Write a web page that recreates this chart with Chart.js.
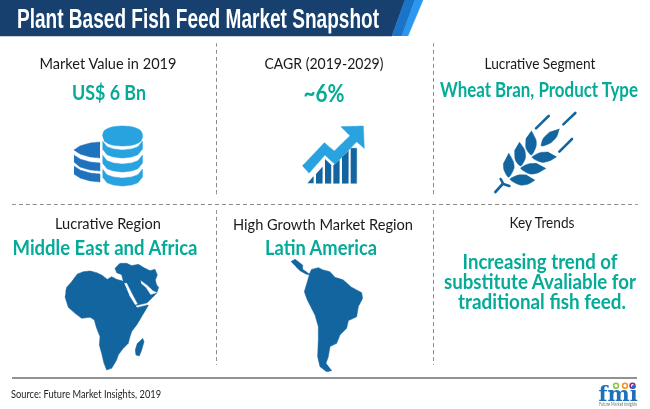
<!DOCTYPE html>
<html><head><meta charset="utf-8">
<style>
html,body{margin:0;padding:0;background:#fff}
#wrap{position:relative;width:650px;height:409px;overflow:hidden}
canvas{display:block}
.t{position:absolute;white-space:nowrap;line-height:1;margin:0;padding:0}
</style>
<script src="https://cdn.jsdelivr.net/npm/chart.js@4"></script>
</head><body><div id="wrap"><canvas id="c" width="650" height="409"></canvas></div>
<script>
// ---- text content ----
const chartTitle = "Plant Based Fish Feed Market Snapshot";
const panelHeadings = ["Market Value in 2019","CAGR (2019-2029)","Lucrative Segment","Lucrative Region","High Growth Market Region","Key Trends"];
const panelValues = ["US$ 6 Bn","~6%","Wheat Bran, Product Type","Middle East and Africa","Latin America"];
const trendLines = ["Increasing trend of","substitute Avaliable for","traditional fish feed."];
const sourceNote = "Source: Future Market Insights, 2019";
const logoWord = "fmi";
const logoTag = "Future Market Insights";

// ---- outlines ----
const headerDark = [[0,0],[405,0],[392,36],[0,36]];
const headerStripeA = [[392,36],[405,0],[415,0],[402,36]];
const headerStripeB = [[402,36],[415,0],[423,0],[408,36]];
const africa = [[197,275],[200,262],[215,245],[232,222],[250,215],[270,213],[290,218],[305,225],[322,238],[335,230],[350,238],[370,244],[365,224],[350,218],[345,205],[360,190],[380,190],[395,197],[415,193],[435,205],[450,212],[465,208],[472,225],[466,240],[470,255],[476,262],[470,280],[455,295],[440,310],[445,316],[440,325],[425,350],[410,375],[395,395],[390,410],[385,430],[370,445],[355,465],[350,480],[335,505],[320,510],[312,490],[305,460],[298,435],[300,410],[290,385],[283,360],[270,352],[245,355],[225,340],[205,322],[195,290]];
const redSea = [[373,250],[380,250],[395,280],[412,312],[406,314],[388,285]];
const gulf = [[422,242],[440,255],[458,272],[470,278],[452,283],[438,262],[424,250]];
const aden = [[408,318],[445,309],[446,313],[411,322]];
const madagascar = [[428,415],[432,425],[425,450],[418,468],[408,465],[406,450],[412,430]];
const southAmerica = [[213,185],[225,178],[235,185],[248,195],[248,208],[268,222],[275,208],[295,203],[310,210],[330,215],[345,232],[370,240],[395,262],[425,278],[428,295],[415,320],[410,350],[385,362],[380,385],[360,405],[350,430],[330,440],[325,470],[318,490],[335,512],[320,515],[300,500],[293,470],[295,420],[295,380],[285,345],[262,300],[253,275],[262,245],[268,225],[258,222],[240,212],[228,200]];
const wheatLeaves = [
 [[236,459],[250,485],[252,505],[236,532],[222,510],[220,490]],
 [[268,426],[284,450],[286,475],[272,498],[256,480],[254,450]],
 [[304,392],[318,420],[318,440],[304,465],[288,445],[288,415]],
 [[388,386],[380,410],[360,430],[334,438],[340,415],[360,395]],
 [[380,470],[360,482],[335,487],[306,472],[330,458],[355,456]],
 [[348,505],[325,518],[300,522],[272,505],[295,492],[320,490]],
 [[315,540],[295,552],[270,555],[240,538],[265,525],[290,525]]
];
const wheatStrokes = [
 [[196,576],[218,552]],[[212,537],[220,552],[238,558]],
 [[318,385],[356,348]],[[400,373],[436,339]],[[388,455],[426,417]]
];
const arrow = [[22,153],[88,83],[118,108],[165,62],[138,35],[205,33],[208,100],[185,80],[120,148],[90,120],[42,175]];
const growthBars = [
 [[38,205],[55,185],[55,205]],
 [[63,178],[82,157],[82,205],[63,205]],
 [[90,133],[108,150],[108,205],[90,205]],
 [[115,152],[133,135],[133,205],[115,205]],
 [[141,127],[160,108],[160,205],[141,205]],
 [[167,100],[185,100],[185,205],[167,205]]
];
const coinTopRight = [[102.5,136],[104,131],[109,128],[115,126.5],[122.5,126],[130,126.5],[136,128],[141,131],[142.5,136],[141,141],[136,144],[130,145.5],[122.5,146],[115,145.5],[109,144],[104,141]];
const coinArcX = [102.5,107,113,122.5,132,138,142.5];
const coinArcDepth = [0,5.7,7.9,9,7.9,5.7,0];
const coinBandTops = [141,155,169];
const coinLeftTop = [[100,142],[90,143],[80,146],[74,150],[80,154],[90,157],[100,158]];
const coinLeftBands = [
 [[74,155],[80,159],[90,162],[100,163],[100,171],[90,170],[80,167],[74,162]],
 [[74,166],[80,170],[90,173],[100,174],[100,182],[90,181],[80,178],[74,174]]
];
const guides = [
 [[216.5,43],[216.5,197]],[[216.5,210],[216.5,365]],
 [[433.5,43],[433.5,197]],[[433.5,210],[433.5,365]],
 [[12,204.5],[638,204.5]]
];
const footerRule = [[12,378],[637,378]];
const logoDots = [[616,385.7],[625,385.7],[632.5,385.7]];
const logoDotColors = ['#8dc63f','#f7941d','#92278f'];

// ---- helpers ----
const XY = p => p.map(([x,y])=>({x,y}));
const Z = (p,ox,oy) => p.map(([x,y])=>({x:ox+x/3,y:oy+y/3}));
const poly = (data,color,extra={}) => Object.assign({data,showLine:true,pointRadius:0,borderWidth:0.5,borderColor:color,backgroundColor:color,fill:'shape',tension:0.001},extra);
const stroke = (data,color,w,extra={}) => Object.assign({data,showLine:true,pointRadius:0,borderWidth:w,borderColor:color,fill:false,tension:0.001,borderCapStyle:'round'},extra);

const NAVY='#17406f', MAP='#12659f', SKY='#29a3e0', COIN='#1f72bd', TEAL='#06ab97';
const datasets=[];
datasets.push({data:XY(logoDots),showLine:false,pointRadius:2.4,pointBorderWidth:1.6,pointBackgroundColor:'#fff',pointBorderColor:logoDotColors});
datasets.push(poly(XY(headerDark),NAVY));
datasets.push(poly(XY(headerStripeA),'#1a74c8'));
datasets.push(poly(XY(headerStripeB),'#2b97ee'));
guides.forEach(g=>datasets.push(stroke(XY(g),'#8a8a8a',1,{borderDash:[4,3],borderCapStyle:'butt'})));
datasets.push(stroke(XY(footerRule),'#6e6e6e',1.3,{borderCapStyle:'butt'}));
// coins
datasets.push(poly(XY(coinTopRight),SKY,{tension:0.3}));
coinBandTops.forEach(t=>{
  const upper=coinArcX.map((x,i)=>({x,y:t+coinArcDepth[i]}));
  const lower=coinArcX.map((x,i)=>({x,y:t+8+coinArcDepth[i]})).reverse();
  datasets.push(poly(upper.concat(lower),SKY));
});
datasets.push(poly(XY(coinLeftTop),COIN));
coinLeftBands.forEach(b=>datasets.push(poly(XY(b),COIN)));
// growth icon
growthBars.forEach(b=>datasets.push(poly(Z(b,295,115),MAP)));
datasets.push(poly(Z(arrow,295,115),SKY));
// wheat
wheatLeaves.forEach(l=>datasets.push(poly(Z(l,430,0),MAP,{tension:0.25})));
wheatStrokes.forEach(s=>datasets.push(stroke(Z(s,430,0),MAP,2.6)));
// maps
datasets.push(poly(Z(africa,0,200),MAP));
datasets.push(poly(Z(redSea,0,200),'#fff'));
datasets.push(poly(Z(gulf,0,200),'#fff'));
datasets.push(poly(Z(aden,0,200),'#fff'));
datasets.push(poly(Z(madagascar,0,200),MAP));
datasets.push(poly(Z(southAmerica,220,200),MAP));
datasets.reverse(); // the library paints the last dataset first

new Chart(document.getElementById('c'),{
  type:'scatter',
  data:{datasets},
  options:{responsive:false,animation:false,devicePixelRatio:1,
    layout:{padding:0,autoPadding:false},
    plugins:{legend:{display:false},title:{display:false},tooltip:{enabled:false}},
    scales:{x:{type:'linear',min:0,max:650,display:false},y:{type:'linear',min:0,max:409,reverse:true,display:false}}
  }
});

// ---- text, fitted to the widths measured in the picture ----
const SANS='Lato, "Open Sans", sans-serif';
const wrap=document.getElementById('wrap');
function put(t,cx,cy,w,font,color,align='center'){
  const el=document.createElement('div');
  el.className='t';el.textContent=t;el.style.font=font;el.style.lineHeight='1';el.style.color=color;
  el.style.left=cx+'px';el.style.top=cy+'px';
  wrap.appendChild(el);
  const k=Math.min(1,w/el.getBoundingClientRect().width);
  if(align==='left'){el.style.transformOrigin='0 50%';el.style.transform=`translateY(-50%) scaleX(${k})`;}
  else{el.style.transform=`translate(-50%,-50%) scaleX(${k})`;}
}
put(chartTitle,198,19,362,'bold 27px "Liberation Sans Narrow","Liberation Sans"','#fff');
const head='15px '+SANS, ink='#1a1a1a';
put(panelHeadings[0],108,63,137,head,ink);
put(panelHeadings[1],324,63,119,head,ink);
put(panelHeadings[2],540,63,111,head,ink);
put(panelHeadings[3],107.5,223,106,head,ink);
put(panelHeadings[4],322.7,224,180,head,ink);
put(panelHeadings[5],541.7,221.7,65,head,ink);
const big='bold 20px '+SANS;
put(panelValues[0],108.7,92,74,big,TEAL);
put(panelValues[1],323.7,92,41,'bold 25px '+SANS,TEAL);
put(panelValues[2],539.3,88.5,198,big,TEAL);
put(panelValues[3],105,245.7,185,'bold 21px '+SANS,TEAL);
put(panelValues[4],320.7,246.5,112,big,TEAL);
put(trendLines[0],540,260.7,155,big,TEAL);
put(trendLines[1],539.5,281,192,big,TEAL);
put(trendLines[2],541.7,301,168,big,TEAL);
put(sourceNote,11,393,150,'11px '+SANS,'#222','left');
put(logoWord,618,392.5,41,'bold 21px "DejaVu Serif","Liberation Serif"','#1d71b8');
put(logoTag,618,403.5,38,'5px '+SANS,'#777');
</script></body></html>
